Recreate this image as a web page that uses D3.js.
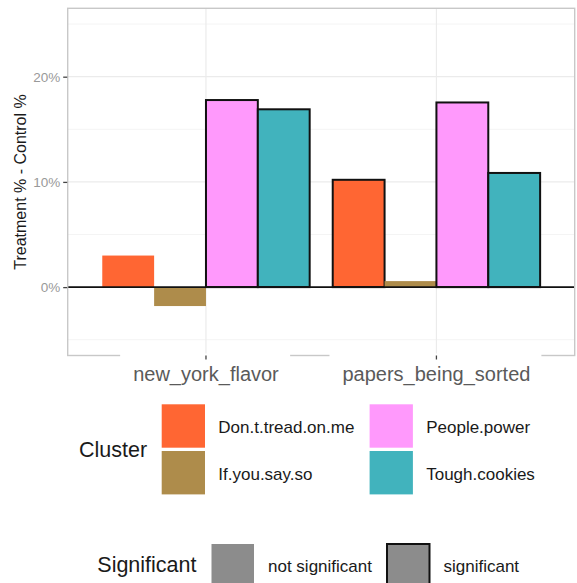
<!DOCTYPE html>
<html><head><meta charset="utf-8">
<script src="https://cdn.jsdelivr.net/npm/d3@7"></script>
<style>html,body{margin:0;padding:0;background:#fff;} svg{display:block;font-family:"Liberation Sans",Arial,Helvetica,sans-serif;}</style>
</head><body>
<script>
const categories = ["new_york_flavor", "papers_being_sorted"];
const clusters = ["Don.t.tread.on.me", "If.you.say.so", "People.power", "Tough.cookies"];
const clusterColors = ["#ff6633", "#ae8c4b", "#ff99fc", "#41b3bd"];
const dontTread = [3.0, 10.2];
const ifYouSaySo = [-1.8, 0.57];
const peoplePower = [17.78, 17.55];
const toughCookies = [16.9, 10.85];
const sigDontTread = [false, true];
const sigIfYouSaySo = [false, false];
const sigPeoplePower = [true, true];
const sigToughCookies = [true, true];
const yTicks = [0, 10, 20];
const yMinorTicks = [-5, 5, 15, 25];
const sigLabels = ["not significant", "significant"];

const seriesValues = [dontTread, ifYouSaySo, peoplePower, toughCookies];
const seriesSig = [sigDontTread, sigIfYouSaySo, sigPeoplePower, sigToughCookies];

const W = 577, H = 583;
const P = {l: 67.7, r: 574.7, t: 8.3, b: 355.5};
const svg = d3.select("body").append("svg").attr("width", W).attr("height", H);

const x = d3.scalePoint().domain(categories).range([P.l, P.r]).padding(0.6);
const groupW = x.step() * 0.9;
const xi = d3.scaleBand().domain(clusters).range([-groupW / 2, groupW / 2]);
const y = d3.scaleLinear().domain([-6.5, 26.5]).range([P.b, P.t]);
const color = d3.scaleOrdinal().domain(clusters).range(clusterColors);

// grid
const g = svg.append("g");
g.selectAll(".minor").data(yMinorTicks).join("line")
  .attr("x1", P.l).attr("x2", P.r).attr("y1", d => y(d)).attr("y2", d => y(d))
  .attr("stroke", "#f4f4f4").attr("stroke-width", 1);
g.selectAll(".major").data(yTicks).join("line")
  .attr("x1", P.l).attr("x2", P.r).attr("y1", d => y(d)).attr("y2", d => y(d))
  .attr("stroke", "#ebebeb").attr("stroke-width", 1.2);
g.selectAll(".vmajor").data(categories).join("line")
  .attr("x1", d => x(d)).attr("x2", d => x(d)).attr("y1", P.t).attr("y2", P.b)
  .attr("stroke", "#ebebeb").attr("stroke-width", 1.2);

// bars
const barData = [];
categories.forEach((c, ci) => {
  clusters.forEach((k, ki) => {
    barData.push({cat: c, cluster: k, value: seriesValues[ki][ci], sig: seriesSig[ki][ci]});
  });
});
svg.append("g").selectAll("rect").data(barData).join("rect")
  .attr("x", d => x(d.cat) + xi(d.cluster))
  .attr("width", xi.bandwidth())
  .attr("y", d => y(Math.max(0, d.value)))
  .attr("height", d => Math.abs(y(d.value) - y(0)))
  .attr("fill", d => color(d.cluster))
  .attr("stroke", d => d.sig ? "#111" : "none")
  .attr("stroke-width", 2);

// zero line
svg.append("line").attr("x1", P.l).attr("x2", P.r).attr("y1", y(0)).attr("y2", y(0))
  .attr("stroke", "#111").attr("stroke-width", 1.6);

// panel border
svg.append("rect").attr("x", P.l).attr("y", P.t).attr("width", P.r - P.l).attr("height", P.b - P.t)
  .attr("fill", "none").attr("stroke", "#c8c8c8").attr("stroke-width", 1.4);

// y axis
const yAxis = d3.axisLeft(y).tickValues(yTicks).tickSize(4).tickPadding(3).tickFormat(d => d + "%");
const ya = svg.append("g").attr("transform", `translate(${P.l - 0.5},0)`).call(yAxis);
ya.select(".domain").remove();
ya.selectAll("line").attr("stroke", "#444").attr("stroke-width", 1.3);
ya.selectAll("text").attr("fill", "#999").style("font-size", "13.5px").style("font-family", "Liberation Sans, Arial, sans-serif");

// x axis labels with white backing (covers border as in reference)
const xa = svg.append("g");
const xl = xa.selectAll("g").data(categories).join("g");
const xt = xl.append("text").attr("x", d => x(d)).attr("y", 381).attr("text-anchor", "middle")
  .attr("fill", "#5a5a5a").style("font-size", "20px").text(d => d);
xt.each(function() {
  const bb = this.getBBox();
  d3.select(this.parentNode).insert("rect", "text")
    .attr("x", bb.x - 13).attr("y", P.b - 2).attr("width", bb.width + 24).attr("height", 4).attr("fill", "#fff");
});
xa.selectAll(".tk").data(categories).join("line")
  .attr("x1", d => x(d)).attr("x2", d => x(d)).attr("y1", P.b).attr("y2", P.b + 4)
  .attr("stroke", "#444").attr("stroke-width", 1.3);

// y title
svg.append("text").attr("transform", "translate(26,182) rotate(-90)").attr("text-anchor", "middle")
  .attr("fill", "#1a1a1a").style("font-size", "16px").text("Treatment % - Control %");

// Cluster legend
const leg = svg.append("g");
leg.append("text").attr("x", 79).attr("y", 457).attr("fill", "#1a1a1a").style("font-size", "21.5px").text("Cluster");
const keyPos = [[161.7, 404.3], [161.7, 451], [369.6, 404.3], [369.6, 451]];
clusters.forEach((k, i) => {
  const [kx, ky] = keyPos[i];
  leg.append("rect").attr("x", kx).attr("y", ky).attr("width", 43.3).attr("height", 43.4).attr("fill", color(k));
  leg.append("text").attr("x", kx + 56.6).attr("y", ky + 28.6).attr("fill", "#1a1a1a").style("font-size", "17px").text(k);
});

// Significant legend
const leg2 = svg.append("g");
leg2.append("text").attr("x", 97.3).attr("y", 572).attr("fill", "#1a1a1a").style("font-size", "21.5px").text("Significant");
const sigKeyX = [211.5, 387];
sigLabels.forEach((s, i) => {
  leg2.append("rect").attr("x", sigKeyX[i]).attr("y", 544).attr("width", 42.5).attr("height", 43)
    .attr("fill", "#8c8c8c").attr("stroke", i === 1 ? "#111" : "none").attr("stroke-width", 2);
  leg2.append("text").attr("x", sigKeyX[i] + 56.5).attr("y", 572).attr("fill", "#1a1a1a").style("font-size", "17px").text(s);
});
</script>
</body></html>
